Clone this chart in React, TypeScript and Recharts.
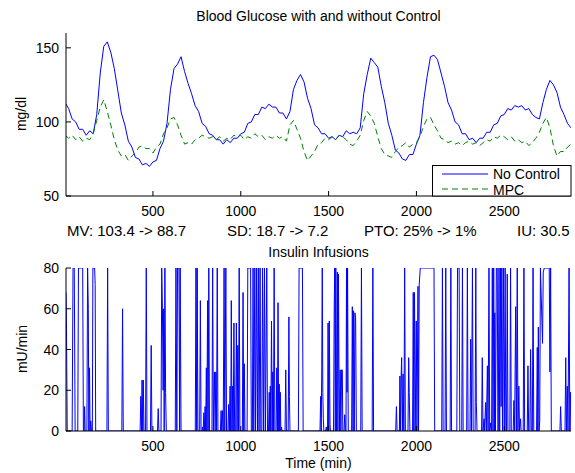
import React from 'react';
import { LineChart, Line, XAxis, YAxis } from 'recharts';

const SAMPLE_MIN = 20;

const noControl = [
  113, 109, 102, 100, 95, 95, 91, 94, 92, 105,
  133, 151, 154, 147, 136, 121, 106, 98, 87, 83,
  76, 75, 71, 72, 70, 73, 74, 82, 87, 99,
  122, 136, 139, 144, 134, 126, 119, 111, 107, 99,
  97, 92, 91, 88, 88, 85, 88, 86, 89, 89,
  92, 93, 99, 100, 105, 105, 110, 109, 112, 110,
  110, 106, 106, 102, 107, 122, 128, 132, 127, 116,
  109, 98, 96, 92, 92, 89, 90, 88, 91, 90,
  94, 92, 93, 92, 96, 119, 132, 143, 140, 137,
  124, 113, 99, 91, 81, 79, 75, 74, 78, 78,
  85, 91, 113, 130, 144, 145, 142, 133, 124, 113,
  108, 100, 98, 92, 92, 88, 89, 86, 89, 89,
  93, 93, 98, 99, 104, 105, 109, 108, 111, 110,
  111, 108, 109, 105, 103, 102, 113, 122, 128, 125,
  120, 110, 105, 99, 96,
];

const mpc = [
  91, 89, 91, 88, 90, 87, 89, 88, 92, 101,
  110, 115, 107, 98, 88, 81, 77, 78, 74, 77,
  79, 83, 84, 82, 82, 79, 83, 85, 92, 96,
  102, 103, 98, 91, 85, 86, 85, 88, 89, 91,
  90, 89, 90, 88, 90, 87, 89, 88, 91, 90,
  91, 88, 90, 89, 92, 90, 91, 88, 90, 89,
  91, 89, 90, 87, 98, 101, 95, 89, 80, 74,
  77, 80, 85, 86, 89, 88, 90, 88, 91, 90,
  88, 85, 84, 87, 91, 101, 107, 104, 99, 90,
  82, 78, 77, 76, 80, 83, 84, 86, 83, 85,
  86, 90, 97, 102, 103, 98, 94, 89, 88, 86,
  87, 85, 86, 84, 86, 87, 85, 86, 84, 86,
  88, 87, 90, 89, 91, 90, 88, 90, 87, 88,
  86, 87, 84, 86, 89, 93, 99, 103, 96, 84,
  77, 80, 80, 83, 85,
];

// insulin infusion [minute, mU/min]
const insulin: [number, number][] = [
  [5, 68], [8, 50], [12, 0],
  [40, 0], [45, 80], [52, 80], [57, 0],
  [72, 0], [76, 80], [100, 80], [104, 0],
  [108, 0], [111, 12], [114, 0],
  [124, 0], [128, 80], [132, 60], [135, 0], [139, 31], [142, 0], [146, 5], [150, 0],
  [155, 0], [158, 80], [168, 80], [171, 72], [174, 0],
  [238, 0], [242, 80], [246, 0],
  [323, 0], [327, 60], [331, 0],
  [427, 0], [431, 17], [435, 0], [438, 25], [442, 0], [445, 25], [449, 0], [458, 0], [462, 80], [466, 0],
  [486, 0], [490, 42], [494, 0],
  [526, 0], [530, 11], [534, 0],
  [546, 0], [550, 80], [554, 60], [558, 20], [561, 60], [564, 0], [568, 80], [572, 19], [576, 0],
  [627, 0], [631, 80], [636, 0], [640, 80], [648, 80], [652, 0], [655, 80], [660, 0],
  [741, 0], [745, 80], [749, 0], [752, 80], [756, 0],
  [766, 0], [770, 64], [774, 0],
  [780, 0], [783, 2], [786, 0], [790, 9], [793, 0], [797, 12], [800, 0], [804, 31], [807, 0], [811, 64], [814, 0], [818, 80], [822, 0],
  [836, 0], [840, 80], [844, 0], [850, 29], [854, 0], [858, 29], [862, 0], [866, 80], [870, 0],
  [884, 0], [888, 10], [892, 0], [896, 10], [900, 0], [905, 80], [909, 0], [915, 80], [919, 0],
  [927, 0], [931, 13], [935, 0], [939, 22], [943, 0], [946, 64], [950, 0], [953, 22], [957, 0], [961, 53], [965, 0],
  [971, 0], [975, 53], [979, 0], [983, 42], [987, 0], [991, 80], [995, 0],
  [1009, 0], [1013, 68], [1017, 0], [1020, 33], [1024, 0],
  [1036, 0], [1040, 80], [1056, 80], [1060, 0],
  [1066, 0], [1070, 80], [1074, 0], [1080, 80], [1084, 0], [1090, 80], [1095, 0], [1100, 80], [1104, 0], [1110, 80], [1114, 0],
  [1120, 0], [1124, 80], [1130, 0], [1135, 80], [1140, 0], [1148, 80], [1152, 0],
  [1158, 0], [1162, 19], [1165, 0], [1168, 22], [1171, 0], [1175, 54], [1179, 0], [1182, 29], [1186, 0], [1190, 80], [1194, 0],
  [1201, 0], [1205, 31], [1209, 0], [1212, 63], [1216, 0], [1219, 23], [1222, 0], [1225, 19], [1228, 0], [1232, 2], [1235, 0],
  [1252, 0], [1256, 30], [1260, 0],
  [1270, 0], [1274, 56], [1277, 17], [1280, 0],
  [1328, 0], [1332, 80], [1351, 80], [1355, 0],
  [1451, 0], [1455, 17], [1458, 0], [1461, 31], [1464, 80], [1467, 19], [1470, 6], [1473, 0],
  [1483, 0], [1487, 2], [1490, 0],
  [1494, 0], [1497, 53], [1501, 0], [1504, 54], [1508, 3], [1511, 0],
  [1528, 0], [1532, 61], [1535, 80], [1538, 0], [1541, 80], [1545, 0], [1550, 78], [1553, 0], [1556, 77], [1559, 30], [1563, 0], [1566, 30], [1570, 0], [1574, 30], [1578, 30], [1581, 0],
  [1588, 0], [1592, 8], [1596, 0],
  [1599, 0], [1602, 80], [1605, 19], [1608, 80], [1612, 0],
  [1631, 0], [1635, 61], [1639, 0], [1642, 59], [1646, 0], [1650, 58], [1654, 55], [1658, 0],
  [1683, 0], [1687, 80], [1691, 0],
  [1748, 0], [1752, 80], [1756, 0],
  [1882, 0], [1886, 12], [1890, 0],
  [1903, 0], [1906, 27], [1909, 0], [1913, 27], [1916, 36], [1920, 0], [1924, 28], [1928, 0],
  [1929, 0], [1933, 80], [1937, 0],
  [1952, 0], [1956, 36], [1959, 19], [1963, 0],
  [1978, 0], [1982, 68], [1985, 0], [1989, 68], [1993, 0], [1999, 54], [2003, 0], [2009, 71], [2012, 0], [2016, 72], [2022, 80], [2030, 80], [2100, 80], [2104, 0],
  [2144, 0], [2148, 80], [2152, 0],
  [2163, 0], [2167, 80], [2171, 0],
  [2192, 0], [2196, 80], [2200, 0],
  [2230, 0], [2234, 80], [2243, 80], [2247, 0],
  [2258, 0], [2262, 80], [2266, 0],
  [2286, 0], [2290, 80], [2294, 0],
  [2305, 0], [2309, 45], [2313, 0], [2319, 80], [2323, 0],
  [2334, 0], [2338, 80], [2341, 14], [2345, 0],
  [2371, 0], [2375, 36], [2379, 0], [2385, 6], [2388, 0], [2394, 14], [2398, 0], [2404, 32], [2408, 0], [2413, 80], [2417, 0], [2423, 4], [2426, 0],
  [2428, 0], [2432, 80], [2436, 0], [2440, 80], [2444, 0], [2446, 58], [2450, 0], [2455, 80], [2460, 80], [2464, 0],
  [2466, 0], [2470, 80], [2474, 0], [2478, 80], [2482, 12], [2486, 80], [2490, 0], [2495, 80], [2500, 0], [2505, 80], [2509, 0],
  [2513, 0], [2517, 77], [2521, 0],
  [2532, 0], [2536, 80], [2540, 0],
  [2551, 0], [2555, 15], [2559, 0], [2565, 61], [2569, 0], [2574, 80], [2578, 0], [2583, 22], [2587, 0], [2593, 6], [2596, 0],
  [2608, 0], [2612, 80], [2616, 0],
  [2631, 0], [2635, 32], [2639, 0], [2646, 0], [2650, 40], [2654, 0],
  [2660, 0], [2664, 80], [2668, 0],
  [2684, 0], [2688, 41], [2691, 0], [2694, 51], [2698, 0], [2702, 5], [2706, 80], [2718, 43], [2722, 78], [2728, 80], [2756, 80], [2760, 29], [2764, 80], [2768, 0],
  [2817, 0], [2821, 12], [2825, 0],
  [2846, 0], [2850, 36], [2854, 0], [2859, 22], [2863, 0], [2869, 80], [2873, 0], [2878, 19], [2880, 0],
];

const timeTicks = [500, 1000, 1500, 2000, 2500];
const glucoseTicks = [50, 100, 150];
const insulinTicks = [0, 20, 40, 60, 80];

const statLabels = ['MV: 103.4 -> 88.7', 'SD: 18.7 -> 7.2', 'PTO: 25% -> 1%', 'IU: 30.5'];
const statX = [67, 227, 364, 517];

const glucoseRows = noControl.map((v, i) => ({ t: i * SAMPLE_MIN, noControl: v, mpc: mpc[i] }));
const insulinRows = insulin.map(([t, v]) => ({ t, rate: v }));

const FONT = '"Liberation Sans", Arial, Helvetica, sans-serif';
const FS = 14;
const TL = 5; // inward tick length

const BottomTick = (props: any) => {
  const { x, y, payload } = props;
  return (
    <g>
      <line x1={x} y1={y} x2={x} y2={y - TL} stroke="#000" />
      <text x={x} y={y + 20} textAnchor="middle" fontSize={FS} fontFamily={FONT} fill="#000">
        {payload.value}
      </text>
    </g>
  );
};
const TopTick = (props: any) => (
  <line x1={props.x} y1={props.y} x2={props.x} y2={props.y + TL} stroke="#000" />
);
const LeftTick = (props: any) => {
  const { x, y, payload } = props;
  return (
    <g>
      <line x1={x} y1={y} x2={x + TL} y2={y} stroke="#000" />
      <text x={x - 7} y={y + 5} textAnchor="end" fontSize={FS} fontFamily={FONT} fill="#000">
        {payload.value}
      </text>
    </g>
  );
};
const RightTick = (props: any) => (
  <line x1={props.x} y1={props.y} x2={props.x - TL} y2={props.y} stroke="#000" />
);

const axisCommon = { tickSize: 0, tickMargin: 0, tickLine: false, interval: 0 as const, axisLine: { stroke: '#000' } };

const App = () => {
  return (
    <div style={{ position: 'relative', width: 575, height: 473, background: '#fff', fontFamily: FONT }}>
      <style>{'body{margin:0}'}</style>
      <div style={{ position: 'absolute', left: 0, top: 0 }}>
        <LineChart width={575} height={240} data={glucoseRows} margin={{ top: 33, right: 4, bottom: 0, left: 0 }}>
          <XAxis {...axisCommon} dataKey="t" type="number" domain={[5, 2880]} allowDataOverflow ticks={timeTicks} height={44} tick={BottomTick} />
          <XAxis {...axisCommon} xAxisId="top" orientation="top" dataKey="t" type="number" domain={[5, 2880]} allowDataOverflow ticks={timeTicks} height={0} tick={TopTick} />
          <YAxis {...axisCommon} type="number" domain={[50, 160]} allowDataOverflow ticks={glucoseTicks} width={66} tick={LeftTick} />
          <YAxis {...axisCommon} yAxisId="right" orientation="right" type="number" domain={[50, 160]} allowDataOverflow ticks={glucoseTicks} width={0} tick={RightTick} />
          <Line type="linear" dataKey="noControl" stroke="#0000ff" strokeWidth={1} dot={false} isAnimationActive={false} />
          <Line type="linear" dataKey="mpc" stroke="#008000" strokeWidth={1} strokeDasharray="6 4" dot={false} isAnimationActive={false} />
        </LineChart>
      </div>
      <div style={{ position: 'absolute', left: 0, top: 240 }}>
        <LineChart width={575} height={233} data={insulinRows} margin={{ top: 28, right: 4, bottom: 0, left: 0 }}>
          <XAxis {...axisCommon} dataKey="t" type="number" domain={[5, 2880]} allowDataOverflow ticks={timeTicks} height={42} tick={BottomTick} />
          <XAxis {...axisCommon} xAxisId="top" orientation="top" dataKey="t" type="number" domain={[5, 2880]} allowDataOverflow ticks={timeTicks} height={0} tick={TopTick} />
          <YAxis {...axisCommon} type="number" domain={[0, 80]} allowDataOverflow ticks={insulinTicks} width={66} tick={LeftTick} />
          <YAxis {...axisCommon} yAxisId="right" orientation="right" type="number" domain={[0, 80]} allowDataOverflow ticks={insulinTicks} width={0} tick={RightTick} />
          <Line type="linear" dataKey="rate" stroke="#0000ff" strokeWidth={1} dot={false} isAnimationActive={false} />
        </LineChart>
      </div>
      <svg width={575} height={473} style={{ position: 'absolute', left: 0, top: 0, pointerEvents: 'none' }} fontFamily={FONT} fontSize={14}>
        <text x={318.5} y={21} textAnchor="middle">Blood Glucose with and without Control</text>
        {statLabels.map((s, i) => (
          <text key={s} x={statX[i]} y={235.5} fontSize={15}>{s}</text>
        ))}
        <text x={318.5} y={256.5} textAnchor="middle">Insulin Infusions</text>
        <text x={318.5} y={468} textAnchor="middle">Time (min)</text>
        <text transform="translate(26,114) rotate(-90)" textAnchor="middle">mg/dl</text>
        <text transform="translate(27,349) rotate(-90)" textAnchor="middle">mU/min</text>
        <rect x={432.5} y={165.5} width={138.5} height={30.5} fill="#fff" stroke="#000" />
        <line x1={442} y1={174} x2={488} y2={174} stroke="#0000ff" />
        <text x={493} y={178.5}>No Control</text>
        <line x1={442} y1={189} x2={488} y2={189} stroke="#008000" strokeDasharray="6 4" />
        <text x={493} y={194.5}>MPC</text>
      </svg>
    </div>
  );
};

export default App;
